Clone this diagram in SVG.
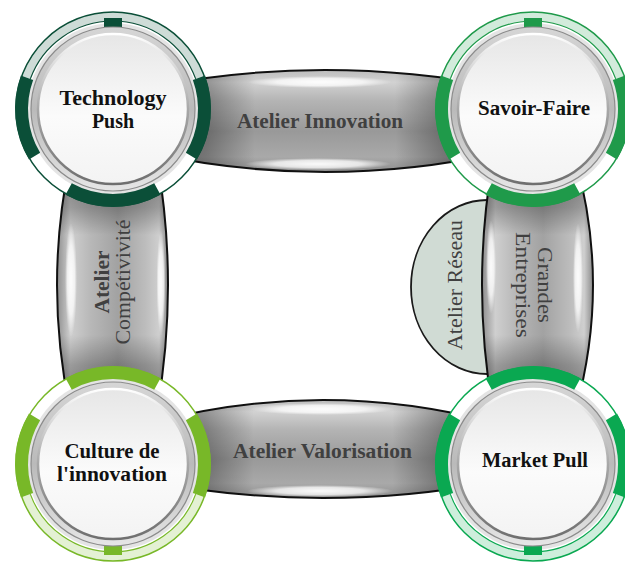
<svg xmlns="http://www.w3.org/2000/svg" width="625" height="563" viewBox="0 0 625 563">
<style>
.lbl{font-family:"Liberation Serif","Times New Roman",serif;font-weight:bold;font-size:20px;fill:#111;text-anchor:middle}
.blbl{font-family:"Liberation Serif","Times New Roman",serif;font-weight:bold;font-size:20px;fill:#404040;text-anchor:middle}
.vlbl{font-family:"Liberation Serif","Times New Roman",serif;font-size:20px;fill:#404040;text-anchor:middle}
.bar{stroke:#111;stroke-width:2}
.barH{fill:url(#gBarH)}
.barV{fill:url(#gBarV)}
.endH{fill:url(#gEndH)}
.endV{fill:url(#gEndV)}
.hl{fill:url(#gHl)}
</style>
<defs>
<linearGradient id="gBezel" x1="0" y1="0" x2="0" y2="1"><stop offset="0" stop-color="#d6d6d6"/><stop offset="0.5" stop-color="#bababa"/><stop offset="1" stop-color="#e6e6e6"/></linearGradient>
<linearGradient id="gFace" x1="0" y1="0" x2="0" y2="1"><stop offset="0" stop-color="#e6e6e6"/><stop offset="0.55" stop-color="#fbfbfb"/><stop offset="1" stop-color="#f3f3f3"/></linearGradient>
<linearGradient id="gRim" x1="0" y1="0" x2="0" y2="1"><stop offset="0" stop-color="#ffffff"/><stop offset="0.5" stop-color="#a8a8a8"/><stop offset="1" stop-color="#6f6f6f"/></linearGradient>
<linearGradient id="gBarH" x1="0" y1="0" x2="0" y2="1"><stop offset="0" stop-color="#bdbdbd"/><stop offset="0.12" stop-color="#d2d2d2"/><stop offset="0.3" stop-color="#b4b4b4"/><stop offset="0.6" stop-color="#999"/><stop offset="0.85" stop-color="#a9a9a9"/><stop offset="1" stop-color="#8e8e8e"/></linearGradient>
<linearGradient id="gEndH" x1="0" y1="0" x2="1" y2="0"><stop offset="0" stop-color="#000" stop-opacity="0.5"/><stop offset="0.16" stop-color="#000" stop-opacity="0.3"/><stop offset="0.3" stop-color="#000" stop-opacity="0"/><stop offset="0.7" stop-color="#000" stop-opacity="0"/><stop offset="0.84" stop-color="#000" stop-opacity="0.3"/><stop offset="1" stop-color="#000" stop-opacity="0.5"/></linearGradient>
<linearGradient id="gBarV" x1="0" y1="0" x2="1" y2="0"><stop offset="0" stop-color="#8e8e8e"/><stop offset="0.12" stop-color="#cfcfcf"/><stop offset="0.3" stop-color="#b8b8b8"/><stop offset="0.55" stop-color="#a2a2a2"/><stop offset="0.8" stop-color="#bdbdbd"/><stop offset="0.92" stop-color="#cfcfcf"/><stop offset="1" stop-color="#8a8a8a"/></linearGradient>
<linearGradient id="gEndV" x1="0" y1="0" x2="0" y2="1"><stop offset="0" stop-color="#000" stop-opacity="0.45"/><stop offset="0.19" stop-color="#000" stop-opacity="0.25"/><stop offset="0.3" stop-color="#000" stop-opacity="0"/><stop offset="0.7" stop-color="#000" stop-opacity="0"/><stop offset="0.82" stop-color="#000" stop-opacity="0.25"/><stop offset="1" stop-color="#000" stop-opacity="0.45"/></linearGradient>
<radialGradient id="gHl"><stop offset="0" stop-color="#fff" stop-opacity="0.95"/><stop offset="0.6" stop-color="#fff" stop-opacity="0.75"/><stop offset="1" stop-color="#fff" stop-opacity="0"/></radialGradient>
<g id="ring">
<circle r="97" fill="#fff" stroke="currentColor" stroke-width="1.5"/>
<circle r="86" fill="#e4e4e4"/>
<path d="M86.92,-31.64A92.5,92.5 0 0 0 -86.92,-31.64" fill="none" stroke="currentColor" stroke-opacity="0.2" stroke-width="9"/>
<path d="M82.69,-30.1A88,88 0 0 0 -82.69,-30.1" fill="none" stroke="currentColor" stroke-width="1.2"/>
<path d="M-85.98,-31.29A91.5,91.5 0 0 0 -78.43,47.12M78.43,47.12A91.5,91.5 0 0 0 85.98,-31.29M-44.36,80.03A91.5,91.5 0 0 0 44.36,80.03" fill="none" stroke="currentColor" stroke-width="13"/>
<rect x="-9" y="-91" width="18" height="9" fill="currentColor"/>
</g>
<g id="bezel">
<circle r="82" fill="url(#gBezel)" stroke="#8c8c8c" stroke-width="1.2"/>
<circle r="75" fill="url(#gFace)" stroke="url(#gRim)" stroke-width="2.5"/>
</g>
</defs>

<g id="atelier-reseau">
<path d="M487,200A76,87 0 0 0 487,374L500,374L500,200Z" fill="#d0dbd4" stroke="#1a1a1a" stroke-width="1.8"/>
<text class="vlbl" transform="translate(455,285) rotate(-90)" x="0" y="7" textLength="130" lengthAdjust="spacingAndGlyphs">Atelier Réseau</text>
</g>

<g id="connectors">
<g id="conn-innovation">
<path class="bar barH" d="M150,87Q325,53 500,87L500,153Q325,191 150,153Z"/>
<path class="endH" d="M150,87Q325,53 500,87L500,153Q325,191 150,153Z"/>
<ellipse class="hl" cx="320" cy="82" rx="72" ry="6"/>
<ellipse class="hl" cx="318" cy="164" rx="73" ry="6"/>
<text class="blbl" x="320" y="128" textLength="166" lengthAdjust="spacingAndGlyphs">Atelier Innovation</text>
</g>
<g id="conn-valorisation">
<path class="bar barH" d="M150,422.9Q323,377.1 496,422.9L496,481.4Q323,514.6 150,481.4Z"/>
<path class="endH" d="M150,422.9Q323,377.1 496,422.9L496,481.4Q323,514.6 150,481.4Z"/>
<ellipse class="hl" cx="322" cy="409" rx="72" ry="6"/>
<ellipse class="hl" cx="320" cy="491" rx="73" ry="6"/>
<text class="blbl" x="322.5" y="458" textLength="179" lengthAdjust="spacingAndGlyphs">Atelier Valorisation</text>
</g>
<g id="conn-competitivite">
<path class="bar barV" d="M70,160Q44,285 70,410L157.2,410Q178.8,285 157.2,160Z"/>
<path class="endV" d="M70,160Q44,285 70,410L157.2,410Q178.8,285 157.2,160Z"/>
<ellipse class="hl" cx="71" cy="280" rx="6" ry="57"/>
<ellipse class="hl" cx="161" cy="283" rx="4.5" ry="53"/>
<text class="blbl" transform="translate(113,282) rotate(-90)" x="0" y="-4" textLength="63" lengthAdjust="spacingAndGlyphs">Atelier</text>
<text class="vlbl" transform="translate(113,282) rotate(-90)" x="0" y="17" textLength="125" lengthAdjust="spacingAndGlyphs">Compétivivité</text>
</g>
<g id="conn-entreprises">
<path class="bar barV" d="M492.8,160Q471.2,285 492.8,410L575.7,410Q610.3,285 575.7,160Z"/>
<path class="endV" d="M492.8,160Q471.2,285 492.8,410L575.7,410Q610.3,285 575.7,160Z"/>
<ellipse class="hl" cx="491" cy="267" rx="5" ry="47"/>
<ellipse class="hl" cx="578" cy="278" rx="5" ry="55"/>
<text class="vlbl" transform="translate(528,285) rotate(90)" x="0" y="-10" textLength="76" lengthAdjust="spacingAndGlyphs">Grandes</text>
<text class="vlbl" transform="translate(528,285) rotate(90)" x="0" y="12" textLength="106" lengthAdjust="spacingAndGlyphs">Entreprises</text>
</g>
</g>

<g id="node-technology-push" transform="translate(113,109)">
<use href="#ring" style="color:#0b4f38"/>
<use href="#bezel"/>
<text class="lbl" x="0" y="-4" textLength="107" lengthAdjust="spacingAndGlyphs">Technology</text>
<text class="lbl" x="0" y="19">Push</text>
</g>
<g id="node-savoir-faire" transform="translate(533,109)">
<use href="#ring" style="color:#1f9a4a"/>
<use href="#bezel"/>
<text class="lbl" x="1" y="6" textLength="112" lengthAdjust="spacingAndGlyphs">Savoir-Faire</text>
</g>
<g id="node-culture" transform="translate(113,464)">
<use href="#ring" transform="scale(1,-1)" style="color:#78b828"/>
<use href="#bezel"/>
<text class="lbl" x="-1" y="-6" textLength="95" lengthAdjust="spacingAndGlyphs">Culture de</text>
<text class="lbl" x="-1" y="17" textLength="110" lengthAdjust="spacingAndGlyphs">l'innovation</text>
</g>
<g id="node-market-pull" transform="translate(533,464)">
<use href="#ring" transform="scale(1,-1)" style="color:#0aa851"/>
<use href="#bezel"/>
<text class="lbl" x="2" y="3" textLength="106" lengthAdjust="spacingAndGlyphs">Market Pull</text>
</g>
</svg>
